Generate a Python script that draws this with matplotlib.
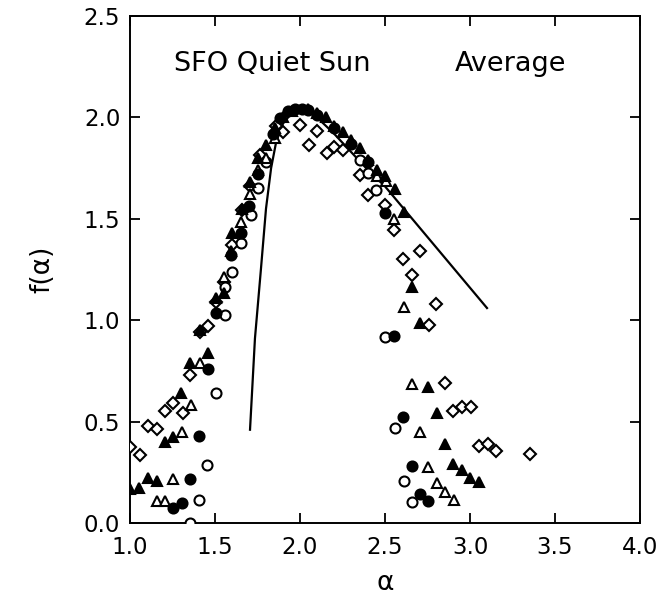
import matplotlib.pyplot as plt

# open diamonds
dia_a = [1.0, 1.059, 1.108, 1.157, 1.206, 1.255, 1.31, 1.355, 1.41, 1.46, 1.504, 1.555,
         1.60, 1.657, 1.706, 1.765, 1.86, 1.90, 2.0, 2.055, 2.10, 2.157, 2.20, 2.255,
         2.353, 2.40, 2.50, 2.555, 2.604, 2.657, 2.706, 2.76, 2.80, 2.853, 2.902, 2.955,
         3.004, 3.053, 3.104, 3.153, 3.353]
dia_f = [0.373, 0.335, 0.48, 0.465, 0.55, 0.59, 0.54, 0.73, 0.94, 0.97, 1.09, 1.19,
         1.37, 1.543, 1.66, 1.815, 1.96, 1.93, 1.963, 1.866, 1.934, 1.826, 1.852, 1.84,
         1.716, 1.617, 1.568, 1.445, 1.30, 1.223, 1.341, 0.976, 1.078, 0.689, 0.554, 0.57,
         0.573, 0.381, 0.388, 0.357, 0.34]

# filled triangles
tri_a = [1.0, 1.055, 1.108, 1.157, 1.206, 1.255, 1.30, 1.35, 1.41, 1.457, 1.504, 1.555,
         1.594, 1.60, 1.657, 1.706, 1.755, 1.80, 1.85, 1.90, 1.95, 2.05, 2.098, 2.15,
         2.20, 2.255, 2.30, 2.353, 2.40, 2.45, 2.50, 2.56, 2.61, 2.657, 2.706, 2.75,
         2.804, 2.853, 2.90, 2.95, 3.0, 3.053]
tri_f = [0.17, 0.174, 0.222, 0.207, 0.40, 0.425, 0.64, 0.79, 0.95, 0.84, 1.11, 1.132,
         1.34, 1.43, 1.55, 1.68, 1.80, 1.864, 1.95, 2.00, 2.03, 2.04, 2.02, 2.0,
         1.96, 1.93, 1.89, 1.847, 1.79, 1.74, 1.71, 1.645, 1.535, 1.162, 0.985, 0.669,
         0.54, 0.39, 0.291, 0.262, 0.224, 0.20]

# open triangles
otri_a = [1.157, 1.206, 1.255, 1.306, 1.357, 1.41, 1.555, 1.653, 1.706, 1.755, 1.80,
          1.85, 2.45, 2.506, 2.553, 2.61, 2.657, 2.706, 2.755, 2.804, 2.853, 2.906]
otri_f = [0.108, 0.108, 0.215, 0.45, 0.58, 0.79, 1.215, 1.486, 1.62, 1.74, 1.80,
          1.90, 1.71, 1.688, 1.50, 1.067, 0.685, 0.45, 0.277, 0.198, 0.154, 0.113]

# filled circles
dot_a = [1.255, 1.306, 1.355, 1.406, 1.457, 1.504, 1.594, 1.653, 1.70, 1.75, 1.843,
         1.88, 1.93, 1.97, 2.01, 2.05, 2.10, 2.20, 2.30, 2.40, 2.50, 2.555, 2.604,
         2.657, 2.706, 2.755]
dot_f = [0.075, 0.097, 0.218, 0.43, 0.76, 1.034, 1.32, 1.43, 1.563, 1.72, 1.92,
         1.995, 2.03, 2.04, 2.04, 2.035, 2.01, 1.95, 1.87, 1.78, 1.527, 0.922, 0.524,
         0.28, 0.142, 0.11]

# open circles
circ_a = [1.355, 1.406, 1.455, 1.506, 1.559, 1.56, 1.60, 1.653, 1.712, 1.755, 1.80,
          2.353, 2.40, 2.447, 2.50, 2.559, 2.61, 2.657]
circ_f = [0.0, 0.113, 0.286, 0.64, 1.026, 1.162, 1.24, 1.38, 1.52, 1.65, 1.78,
          1.79, 1.724, 1.642, 0.916, 0.467, 0.205, 0.105]

# average curve
line_a = [1.706, 1.735, 1.77, 1.80, 1.83, 1.86, 1.90, 1.95, 2.00, 2.05, 2.10, 2.20,
          2.30, 2.40, 2.50, 2.60, 2.70, 2.80, 2.90, 3.00, 3.10]
line_f = [0.46, 0.91, 1.25, 1.55, 1.75, 1.88, 1.97, 2.02, 2.04, 2.03, 2.00, 1.92,
          1.83, 1.74, 1.66, 1.56, 1.46, 1.36, 1.26, 1.16, 1.06]

plt.rcParams['font.family'] = 'DejaVu Sans'

fig = plt.figure(figsize=(6.69, 6.08), dpi=100)
ax = fig.add_axes([130 / 669, 85 / 608, 510 / 669, 507 / 608])

ax.plot(line_a, line_f, color='black', lw=1.6, zorder=2)

mk = dict(linestyle='none', markeredgecolor='black', markeredgewidth=1.5, zorder=3)
ax.plot(dia_a, dia_f, marker='D', markersize=6.3, markerfacecolor='white', **mk)
ax.plot(circ_a, circ_f, marker='o', markersize=7.2, markerfacecolor='white', **mk)
ax.plot(otri_a, otri_f, marker='^', markersize=7.8, markerfacecolor='white', **mk)
ax.plot(tri_a, tri_f, marker='^', markersize=7.8, markerfacecolor='black', **mk)
ax.plot(dot_a, dot_f, marker='o', markersize=7.2, markerfacecolor='black', **mk)

ax.set_xlim(1.0, 4.0)
ax.set_ylim(0.0, 2.5)
ax.set_xticks([1.0, 1.5, 2.0, 2.5, 3.0, 3.5, 4.0])
ax.set_yticks([0.0, 0.5, 1.0, 1.5, 2.0, 2.5])
ax.set_xticklabels(['1.0', '1.5', '2.0', '2.5', '3.0', '3.5', '4.0'])
ax.set_yticklabels(['0.0', '0.5', '1.0', '1.5', '2.0', '2.5'])
ax.tick_params(direction='in', length=7, width=1.3, top=True, right=True,
               labelsize=16.5)
ax.tick_params(axis='x', pad=9)
ax.tick_params(axis='y', pad=7)
for s in ax.spines.values():
    s.set_linewidth(1.4)

ax.text(1.26, 2.265, 'SFO Quiet Sun', fontsize=19.5, va='center', ha='left')
ax.text(2.91, 2.265, 'Average', fontsize=19.5, va='center', ha='left')

ax.set_xlabel('α', fontsize=19, labelpad=8)
ax.set_ylabel('f(α)', fontsize=19, labelpad=20)

fig.savefig('out.png', dpi=100)
